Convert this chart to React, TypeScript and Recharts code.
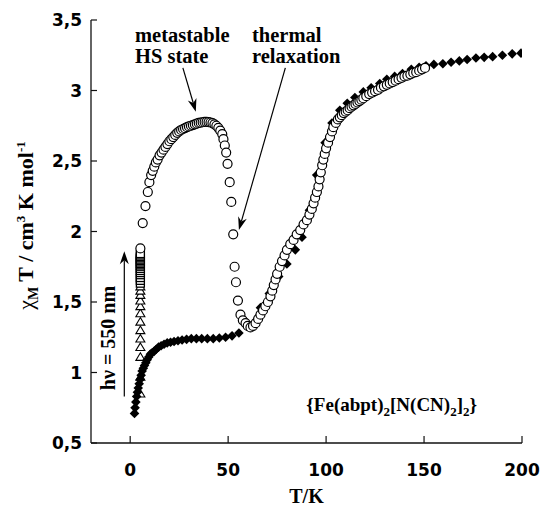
import React from 'react';
import { ScatterChart, Scatter, XAxis, YAxis, ReferenceLine, Label } from 'recharts';

// ---- axis ticks ----
const tempTicks = [0, 50, 100, 150, 200];
const chiTTicks = [0.5, 1, 1.5, 2, 2.5, 3, 3.5];

// ---- thermal curve (filled diamonds) ----
const thermalT = [2.2, 2.5, 2.9, 3.3, 3.7, 4.1, 4.6, 5.1, 5.6, 6.1, 6.7, 7.3, 8.0, 8.7, 9.5, 10.3, 11.2, 12.2, 13.3, 14.5, 15.8, 17.3, 18.9, 20.6, 22.4, 24.4, 26.5, 28.8, 31.2, 33.8, 36.5, 39.4, 42.4, 45.5, 48.7, 52.0, 55.5, 59.5, 66.5, 71.0, 75.8, 80.0, 84.3, 87.7, 91.5, 95.2, 99.5, 103.0, 107.0, 110.8, 114.7, 119.0, 123.0, 127.4, 131.0, 135.0, 139.0, 143.5, 147.5, 151.0, 155.0, 159.6, 163.8, 168.0, 172.0, 176.5, 180.7, 185.0, 190.0, 195.0, 199.5];
const thermalChiT = [0.71, 0.75, 0.79, 0.83, 0.86, 0.89, 0.92, 0.95, 0.98, 1.01, 1.03, 1.05, 1.07, 1.09, 1.11, 1.13, 1.14, 1.15, 1.165, 1.18, 1.19, 1.2, 1.21, 1.215, 1.22, 1.225, 1.23, 1.235, 1.24, 1.24, 1.24, 1.24, 1.24, 1.245, 1.25, 1.26, 1.28, 1.33, 1.46, 1.56, 1.68, 1.77, 1.87, 1.96, 2.15, 2.4, 2.63, 2.77, 2.86, 2.91, 2.95, 2.99, 3.02, 3.05, 3.08, 3.1, 3.12, 3.15, 3.165, 3.175, 3.185, 3.19, 3.2, 3.21, 3.22, 3.23, 3.235, 3.24, 3.25, 3.26, 3.265];

// ---- metastable HS state and its relaxation (open circles) ----
const relaxT = [5.2, 6.4, 7.8, 9.0, 9.8, 10.7, 11.5, 12.3, 13.1, 14.0, 15.0, 16.0, 17.0, 18.0, 19.0, 20.0, 21.0, 22.0, 23.0, 24.0, 25.0, 26.0, 27.0, 28.0, 29.0, 30.0, 31.0, 32.0, 33.0, 34.0, 35.0, 36.0, 37.0, 38.0, 39.0, 40.0, 41.0, 42.0, 43.0, 44.0, 45.0, 46.0, 47.0, 47.6, 48.3, 49.0, 49.7, 50.8, 51.6, 52.6, 53.3, 54.0, 55.0, 56.3, 57.5, 58.9, 60.0, 61.4, 62.7, 64.0, 65.3, 66.5, 67.8, 69.0, 70.3, 71.6, 72.5, 73.3, 74.2, 75.0, 76.3, 77.5, 78.8, 80.0, 81.7, 83.4, 85.0, 86.8, 88.5, 90.2, 91.5, 92.7, 93.6, 94.4, 95.3, 96.1, 96.7, 97.3, 98.0, 98.6, 99.3, 100.0, 101.0, 102.0, 103.0, 103.7, 105.0, 106.0, 107.0, 108.0, 109.0, 110.0, 111.0, 112.0, 113.0, 114.0, 115.0, 116.0, 117.0, 118.0, 119.0, 120.5, 122.0, 123.5, 125.0, 126.5, 128.0, 129.5, 131.0, 132.5, 134.0, 135.5, 137.0, 138.5, 140.0, 141.5, 143.0, 144.5, 146.0, 147.5, 149.0, 150.5];
const relaxChiT = [1.88, 2.06, 2.18, 2.28, 2.35, 2.4, 2.43, 2.46, 2.49, 2.51, 2.54, 2.56, 2.58, 2.6, 2.62, 2.64, 2.655, 2.67, 2.685, 2.7, 2.71, 2.72, 2.727, 2.733, 2.74, 2.745, 2.75, 2.755, 2.76, 2.765, 2.77, 2.772, 2.775, 2.777, 2.777, 2.776, 2.773, 2.768, 2.76, 2.75, 2.735, 2.715, 2.69, 2.655, 2.61, 2.56, 2.48, 2.35, 2.21, 1.98, 1.75, 1.64, 1.51, 1.41, 1.37, 1.35, 1.33, 1.32, 1.33, 1.35, 1.38, 1.41, 1.44, 1.47, 1.5, 1.54, 1.58, 1.62, 1.66, 1.7, 1.75, 1.79, 1.83, 1.87, 1.91, 1.94, 1.98, 2.01, 2.05, 2.08, 2.12, 2.16, 2.2, 2.24, 2.28, 2.32, 2.37, 2.42, 2.47, 2.51, 2.55, 2.59, 2.63, 2.67, 2.71, 2.74, 2.77, 2.795, 2.81, 2.825, 2.84, 2.85, 2.86, 2.875, 2.885, 2.895, 2.905, 2.915, 2.925, 2.935, 2.945, 2.96, 2.975, 2.985, 2.995, 3.005, 3.02, 3.03, 3.04, 3.05, 3.06, 3.07, 3.08, 3.09, 3.1, 3.105, 3.115, 3.125, 3.13, 3.14, 3.15, 3.16];

// ---- irradiation at 5 K (open triangles, then open squares) ----
const irradiationT = 5.2;
const irrTriangleChiT = [0.85, 0.97, 1.11, 1.18, 1.24, 1.3, 1.36, 1.42, 1.47, 1.51, 1.55, 1.58, 1.61];
const irrSquareChiT = [1.63, 1.65, 1.67, 1.69, 1.705, 1.72, 1.735, 1.75, 1.76, 1.77, 1.78, 1.79, 1.8, 1.81, 1.82, 1.83, 1.84];

const thermalData = thermalT.map((t, i) => ({ t, v: thermalChiT[i] }));
const relaxData = relaxT.map((t, i) => ({ t, v: relaxChiT[i] }));
const triData = irrTriangleChiT.map((v) => ({ t: irradiationT, v }));
const sqData = irrSquareChiT.map((v) => ({ t: irradiationT, v }));

const SERIF = '"Liberation Serif", "Times New Roman", serif';
const SANS = '"DejaVu Sans", Arial, sans-serif';
const INK = '#111';

const Diamond = (p: any) => {
  const { cx, cy } = p;
  const r = 4.8;
  return <polygon points={`${cx},${cy - r} ${cx + r},${cy} ${cx},${cy + r} ${cx - r},${cy}`} fill="#000" />;
};
const Circle = (p: any) => <circle cx={p.cx} cy={p.cy} r={4.5} fill="#fff" stroke="#000" strokeWidth={1.2} />;
const Triangle = (p: any) => {
  const { cx, cy } = p;
  return <polygon points={`${cx},${cy - 4.2} ${cx + 4.5},${cy + 3.4} ${cx - 4.5},${cy + 3.4}`} fill="#fff" stroke="#000" strokeWidth={1.1} />;
};
const Square = (p: any) => <rect x={p.cx - 4} y={p.cy - 3.5} width={8} height={7} fill="#fff" stroke="#000" strokeWidth={1.3} />;

const Arrow = (p: any) => {
  const { x1, y1, x2, y2 } = p;
  const a = Math.atan2(y2 - y1, x2 - x1);
  const L = 13, W = 4.5, N = 9;
  const c = Math.cos(a), s = Math.sin(a);
  const bx = x2 - L * c, by = y2 - L * s;
  const nx = x2 - N * c, ny = y2 - N * s;
  return (
    <g>
      <line x1={x1} y1={y1} x2={nx} y2={ny} stroke="#000" strokeWidth={1.2} />
      <polygon points={`${x2},${y2} ${bx - s * W},${by + c * W} ${nx},${ny} ${bx + s * W},${by - c * W}`} fill="#000" />
    </g>
  );
};

const XTick = (p: any) => {
  const { x, y, payload } = p;
  return (
    <g>
      <line x1={x} y1={y} x2={x} y2={y - 7} stroke={INK} strokeWidth={1.2} />
      <text x={x} y={y + 33} textAnchor="middle" fontFamily={SANS} fontWeight="bold" fontSize={17} fill="#000">{payload.value}</text>
    </g>
  );
};
const YTick = (p: any) => {
  const { x, y, payload } = p;
  return (
    <g>
      <line x1={x} y1={y} x2={x + 6} y2={y} stroke={INK} strokeWidth={1.2} />
      <text x={x - 9} y={y + 6} textAnchor="end" fontFamily={SANS} fontWeight="bold" fontSize={17} fill="#000">{String(payload.value).replace('.', ',')}</text>
    </g>
  );
};

const XTitle = (p: any) => {
  const vb = p.viewBox;
  return <text x={vb.x + vb.width / 2} y={503} textAnchor="middle" fontFamily={SERIF} fontWeight="bold" fontSize={20} fill="#000">T/K</text>;
};
const YTitle = (p: any) => {
  const vb = p.viewBox;
  const cx = 33, cy = vb.y + vb.height / 2 - 6;
  return (
    <text x={cx} y={cy} transform={`rotate(-90 ${cx} ${cy})`} textAnchor="middle" fontFamily={SERIF} fontWeight="bold" fontSize={22} fill="#000">
      <tspan fontWeight="normal">χ</tspan>
      <tspan fontSize={14} dy={5}>M</tspan>
      <tspan dy={-5}> T / cm</tspan>
      <tspan fontSize={13} dy={-8}>3</tspan>
      <tspan dy={8}> K mol</tspan>
      <tspan fontSize={13} dy={-8}>-1</tspan>
    </text>
  );
};

export default function App() {
  return (
    <div style={{ position: 'absolute', left: 0, top: 0, width: 540, height: 517, background: '#fff' }}>
      <ScatterChart width={540} height={517} margin={{ top: 20, right: 18, bottom: 0, left: 0 }}>
        <XAxis dataKey="t" type="number" domain={[-20, 200]} ticks={tempTicks} allowDataOverflow
          tickSize={0} tickMargin={0} tickLine={false} tick={<XTick />} axisLine={{ stroke: INK, strokeWidth: 1.3 }} height={74}>
          <Label content={<XTitle />} />
        </XAxis>
        <XAxis xAxisId="top" orientation="top" type="number" domain={[-20, 200]} height={0} tick={false} tickLine={false} axisLine={{ stroke: INK, strokeWidth: 1.3 }} />
        <YAxis dataKey="v" type="number" domain={[0.5, 3.5]} ticks={chiTTicks} allowDataOverflow
          tickSize={0} tickMargin={0} tickLine={false} tick={<YTick />} axisLine={{ stroke: INK, strokeWidth: 1.3 }} width={91}>
          <Label content={<YTitle />} />
        </YAxis>
        <YAxis yAxisId="right" orientation="right" type="number" domain={[0.5, 3.5]} width={0} tick={false} tickLine={false} axisLine={{ stroke: INK, strokeWidth: 1.3 }} />

        <Scatter data={triData} shape={Triangle} isAnimationActive={false} />
        <Scatter data={sqData} shape={Square} isAnimationActive={false} />
        <Scatter data={thermalData} shape={Diamond} isAnimationActive={false} />
        <Scatter data={relaxData} shape={Circle} isAnimationActive={false} />

        <ReferenceLine segment={[{ x: 26.9, y: 3.16 }, { x: 33.5, y: 2.85 }]} shape={Arrow} />
        <ReferenceLine segment={[{ x: 79.2, y: 3.16 }, { x: 55.5, y: 2.01 }]} shape={Arrow} />
        <ReferenceLine segment={[{ x: -3, y: 0.83 }, { x: -3, y: 1.86 }]} shape={Arrow} />

        <text fontFamily={SERIF} fontWeight="bold" fontSize={20.5} fill="#000">
          <tspan x={135} y={42}>metastable</tspan>
          <tspan x={135} y={63}>HS state</tspan>
        </text>
        <text fontFamily={SERIF} fontWeight="bold" fontSize={20.5} fill="#000">
          <tspan x={252} y={42}>thermal</tspan>
          <tspan x={252} y={63}>relaxation</tspan>
        </text>
        <text x={115} y={338} transform="rotate(-90 115 338)" textAnchor="middle" fontFamily={SERIF} fontWeight="bold" fontSize={20} fill="#000">hν = 550 nm</text>
        <text x={477} y={411} textAnchor="end" fontFamily={SERIF} fontWeight="bold" fontSize={19} fill="#000">
          {'{Fe(abpt)'}
          <tspan fontSize={13} dy={5}>2</tspan>
          <tspan dy={-5}>[N(CN)</tspan>
          <tspan fontSize={13} dy={5}>2</tspan>
          <tspan dy={-5}>]</tspan>
          <tspan fontSize={13} dy={5}>2</tspan>
          <tspan dy={-5}>{'}'}</tspan>
        </text>
      </ScatterChart>
    </div>
  );
}
